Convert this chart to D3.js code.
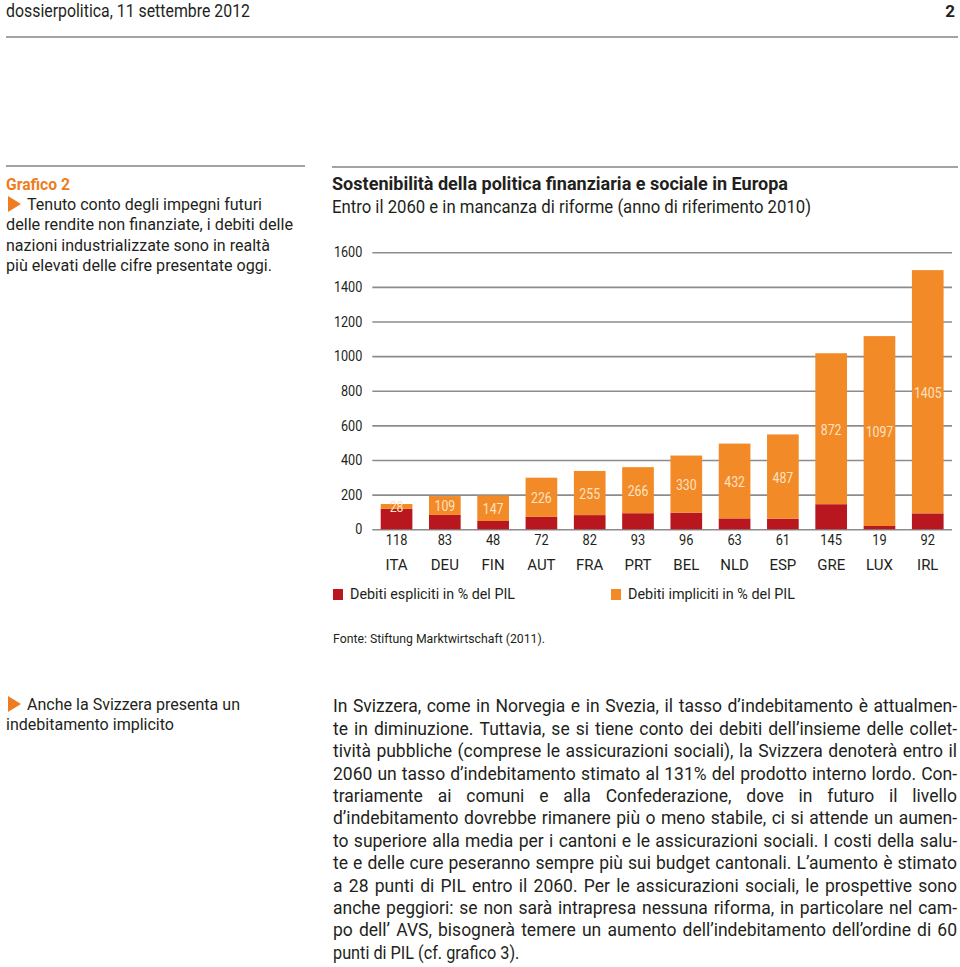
<!DOCTYPE html>
<html><head><meta charset="utf-8">
<script src="https://cdn.jsdelivr.net/npm/d3@7"></script>
<style>
body{margin:0;background:#fff}
svg{display:block}
text{font-family:Roboto,"Open Sans",sans-serif;fill:#231f20}
</style>
</head><body>
<script>
// ---- data ----
const countries = ["ITA","DEU","FIN","AUT","FRA","PRT","BEL","NLD","ESP","GRE","LUX","IRL"];
const explicitDebt = [118,83,48,72,82,93,96,63,61,145,19,92];
const implicitDebt = [28,109,147,226,255,266,330,432,487,872,1097,1405];
const yTicks = [0,200,400,600,800,1000,1200,1400,1600];
const seriesNames = ["Debiti espliciti in % del PIL","Debiti impliciti in % del PIL"];
const colors = {explicit:"#b8171f", implicit:"#f28a28", label:"#fde2c2", grid:"#8c8c8c", rule:"#a3a3a3", accent:"#ee7d22"};

const headerText = "dossierpolitica, 11 settembre 2012";
const pageNumber = "2";
const sideHeading = "Grafico 2";
const sideLines = ["Tenuto conto degli impegni futuri","delle rendite non finanziate, i debiti delle","nazioni industrializzate sono in realtà","più elevati delle cifre presentate oggi."];
const chartTitle = "Sostenibilità della politica finanziaria e sociale in Europa";
const chartSubtitle = "Entro il 2060 e in mancanza di riforme (anno di riferimento 2010)";
const sourceText = "Fonte: Stiftung Marktwirtschaft  (2011).";
const side2Lines = ["Anche la Svizzera presenta un","indebitamento implicito"];
const bodyLines = [
"In Svizzera, come in Norvegia e in Svezia, il tasso d’indebitamento è attualmen-",
"te in diminuzione. Tuttavia, se si tiene conto dei debiti dell’insieme delle collet-",
"tività pubbliche (comprese le assicurazioni sociali), la Svizzera denoterà entro il",
"2060 un tasso d’indebitamento stimato al 131% del prodotto interno lordo. Con-",
"trariamente ai comuni e alla Confederazione, dove in futuro il livello",
"d’indebitamento dovrebbe rimanere più o meno stabile, ci si attende un aumen-",
"to superiore alla media per i cantoni e le assicurazioni sociali. I costi della salu-",
"te e delle cure peseranno sempre più sui budget cantonali. L’aumento è stimato",
"a 28 punti di PIL entro il 2060. Per le assicurazioni sociali, le prospettive sono",
"anche peggiori: se non sarà intrapresa nessuna riforma, in particolare nel cam-",
"po dell’ AVS, bisognerà temere un aumento dell’indebitamento dell’ordine di 60",
"punti di PIL (cf. grafico 3)."
];

const table = countries.map((c,i)=>({country:c, explicit:explicitDebt[i], implicit:implicitDebt[i]}));

// ---- svg ----
const W = 960, H = 967;
const svg = d3.select("body").append("svg").attr("width",W).attr("height",H);

function txt(s, x, y, o={}){
  const size = o.size||16;
  const t = svg.append("text").text(s)
    .attr("x",x).attr("y",y + size*0.36)
    .style("font-size",size+"px")
    .style("font-weight",o.weight||400)
    .attr("text-anchor",o.anchor||"start");
  if(o.fill) t.style("fill",o.fill);
  if(o.width){ t.attr("textLength",o.width).attr("lengthAdjust","spacingAndGlyphs"); }
  return t;
}
function rule(x1,x2,y){
  svg.append("line").attr("x1",x1).attr("x2",x2).attr("y1",y).attr("y2",y)
    .attr("stroke",colors.rule).attr("stroke-width",2);
}
function triangle(x,y){
  svg.append("path").attr("d",`M${x},${y}L${x+13},${y+8}L${x},${y+16}Z`).attr("fill",colors.accent);
}

// header
txt(headerText, 6, 11, {size:17.5, width:244});
txt(pageNumber, 955, 11, {size:17, weight:700, anchor:"end"});
rule(6,958,37);

// sidebar
rule(6,305,166);
txt(sideHeading, 6, 184, {size:16, weight:700, fill:colors.accent, width:64});
triangle(8,196);
const sideW = [235,287,264,266];
sideLines.forEach((s,i)=>{
  txt(s, i===0?27:6, 204 + i*20.5, {size:16, width:sideW[i]});
});

// chart title
rule(332,958,167);
txt(chartTitle, 332, 184, {size:18, weight:700, width:456});
txt(chartSubtitle, 332, 207, {size:18, width:479});

// ---- chart ----
const y = d3.scaleLinear().domain([0,1600]).range([529.3,252.3]);
const x = d3.scaleBand().domain(countries).range([372.3,952]).paddingInner(0.344).paddingOuter(0.174);

const axisG = svg.append("g").attr("transform","translate(372.3,0)")
  .call(d3.axisLeft(y).tickValues(yTicks).tickSize(-(952-372.3)).tickPadding(10).tickFormat(d3.format("d")));
axisG.select(".domain").remove();
axisG.selectAll(".tick line").attr("stroke",colors.grid).attr("stroke-width",1.6);
axisG.selectAll(".tick text").style("font-size","14.5px").style("fill","#231f20").style("font-family","Roboto,sans-serif")
  .attr("textLength",d=>String(d).length*7.1).attr("lengthAdjust","spacingAndGlyphs");

const stack = d3.stack().keys(["explicit","implicit"]);
const layers = stack(table);
svg.append("g").selectAll("g").data(layers).join("g")
  .attr("fill",d=>colors[d.key])
  .selectAll("rect").data(d=>d).join("rect")
  .attr("x",d=>x(d.data.country))
  .attr("width",x.bandwidth())
  .attr("y",d=>y(d[1]))
  .attr("height",d=>y(d[0])-y(d[1]));

// implicit labels inside bars
svg.append("g").selectAll("text").data(layers[1]).join("text")
  .attr("x",d=>x(d.data.country)+x.bandwidth()/2)
  .attr("y",d=>(y(d[0])+y(d[1]))/2 + 6)
  .attr("text-anchor","middle")
  .style("font-size","15.5px")
  .style("fill",colors.label)
  .attr("textLength",d=>String(d.data.implicit).length*6.9).attr("lengthAdjust","spacingAndGlyphs")
  .text(d=>d.data.implicit);

// explicit values and country names under axis
svg.append("g").selectAll("text").data(table).join("text")
  .attr("x",d=>x(d.country)+x.bandwidth()/2)
  .attr("y",539+5.5)
  .attr("text-anchor","middle")
  .style("font-size","15px")
  .attr("textLength",d=>String(d.explicit).length*7.2).attr("lengthAdjust","spacingAndGlyphs")
  .text(d=>d.explicit);
svg.append("g").selectAll("text").data(table).join("text")
  .attr("x",d=>x(d.country)+x.bandwidth()/2)
  .attr("y",564+5.5)
  .attr("text-anchor","middle")
  .style("font-size","15px")
  .text(d=>d.country);

// legend
const legend = [{name:seriesNames[0],key:"explicit",x:333,w:165},{name:seriesNames[1],key:"implicit",x:611,w:167}];
legend.forEach(l=>{
  svg.append("rect").attr("x",l.x).attr("y",589).attr("width",10).attr("height",11).attr("fill",colors[l.key]);
  txt(l.name, l.x+17, 594, {size:15, width:l.w});
});

// source
txt(sourceText, 333, 638, {size:13, width:212});

// second sidebar
triangle(8,696);
txt(side2Lines[0], 27, 704, {size:16, width:213});
txt(side2Lines[1], 6, 724, {size:16, width:168});

// body text, justified
function justifyLine(s, x0, yc, width, justify, size){
  const words = s.split(" ");
  const g = svg.append("g");
  const ts = words.map(w=>g.append("text").text(w).attr("y",yc+size*0.36).style("font-size",size+"px"));
  const ws = ts.map(t=>t.node().getComputedTextLength());
  const sp = (()=>{const t=g.append("text").text("a a").style("font-size",size+"px");const a=g.append("text").text("aa").style("font-size",size+"px");const r=t.node().getComputedTextLength()-a.node().getComputedTextLength();t.remove();a.remove();return r;})();
  const sum = d3.sum(ws);
  let k = 1, gap = sp;
  if(justify){
    gap = (width - sum)/(words.length-1);
    if(gap < sp*0.9){ k = width/(sum + sp*0.9*(words.length-1)); gap = sp*0.9*k; }
  } else {
    k = 0.93; gap = sp*0.93;
  }
  let cx = x0;
  ts.forEach((t,i)=>{
    t.attr("x",cx);
    if(k!==1) t.attr("textLength",ws[i]*k).attr("lengthAdjust","spacingAndGlyphs");
    cx += ws[i]*k + gap;
  });
}
bodyLines.forEach((s,i)=>{
  justifyLine(s, 333, 706 + i*22.4, 624, i<bodyLines.length-1, 17.5);
});
</script>
</body></html>
